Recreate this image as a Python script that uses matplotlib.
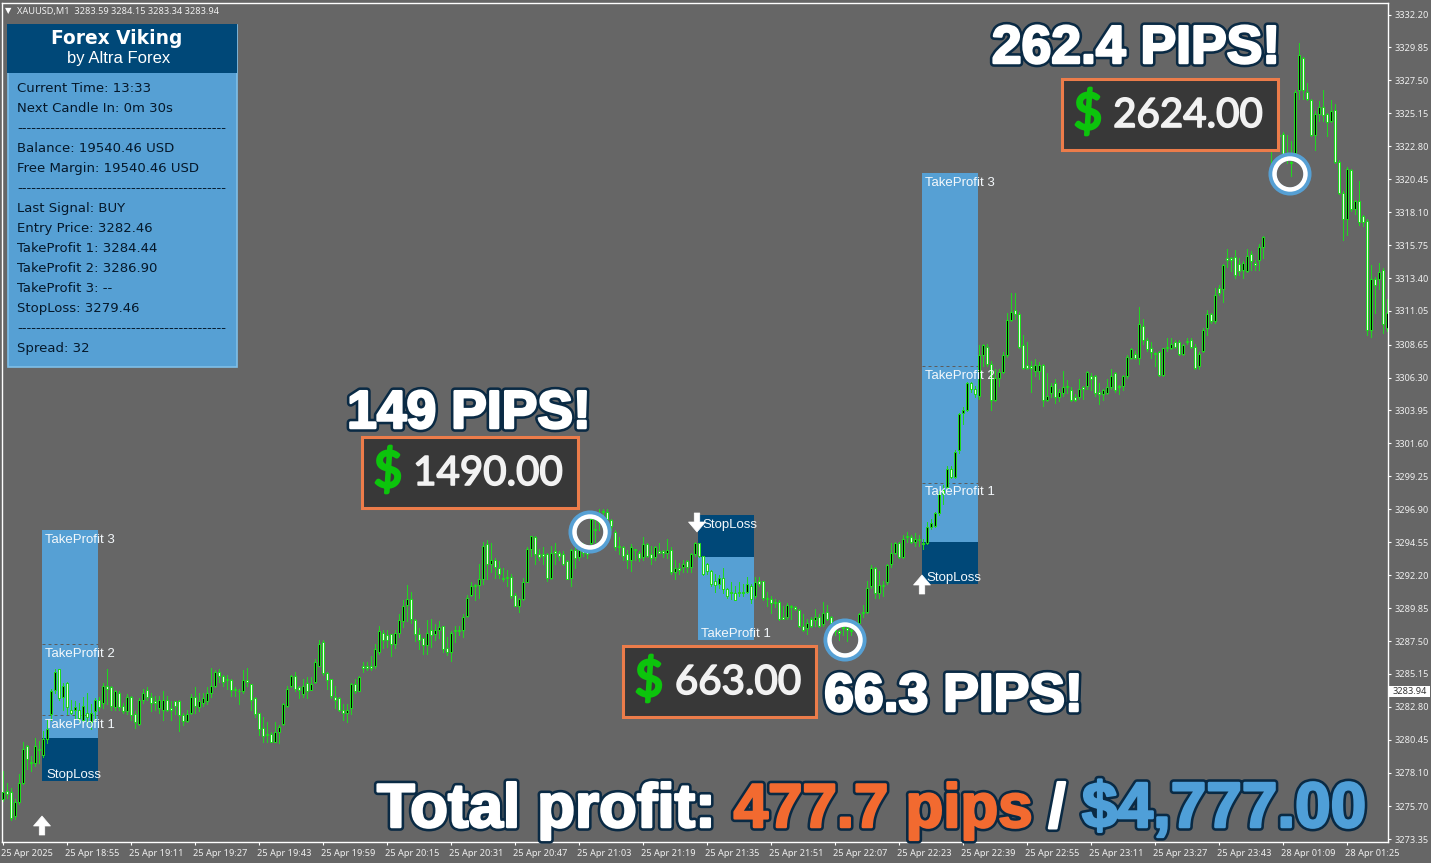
import matplotlib
matplotlib.use("Agg")
import matplotlib.pyplot as plt
import matplotlib.patheffects as pe
from matplotlib.patches import Rectangle, Circle, FancyArrow
from matplotlib.transforms import ScaledTranslation

W, H = 1431, 863
GRAY = '#666666'
GREEN = '#1fd81f'
BLUE = '#56a0d4'
NAVY = '#004878'
ORANGE = '#ec7c4a'
DARK = '#383838'

opens = [3276.2,3276.8,3276.7,3275.0,3276.0,3277.4,3280.0,3278.9,3278.8,3279.8,
3279.4,3280.5,3282.3,3284.0,3285.5,3283.5,3284.5,3282.6,3282.6,3282.6,
3281.9,3282.4,3281.7,3282.5,3283.3,3283.1,3284.3,3284.2,3282.8,3283.8,
3282.9,3282.5,3283.5,3282.3,3281.6,3283.3,3284.0,3283.5,3283.2,3282.7,
3282.6,3283.3,3282.7,3283.2,3283.2,3282.2,3281.8,3282.4,3283.5,3282.8,
3283.1,3283.2,3283.8,3284.3,3285.3,3285.0,3284.7,3284.7,3284.1,3283.9,
3283.9,3284.7,3284.4,3283.4,3282.4,3281.3,3280.8,3280.9,3280.3,3281.0,
3281.6,3282.9,3284.3,3285.0,3284.2,3283.7,3284.5,3284.0,3284.6,3285.7,
3287.4,3285.2,3284.8,3283.5,3283.4,3282.6,3282.4,3282.7,3284.4,3283.9,
3285.7,3285.7,3285.7,3285.7,3286.7,3288.1,3287.9,3288.0,3287.3,3288.1,
3288.9,3290.1,3290.5,3289.0,3288.0,3287.7,3287.2,3288.3,3288.0,3288.3,
3288.6,3287.0,3286.7,3288.3,3288.3,3288.3,3289.3,3290.8,3291.5,3291.5,
3291.9,3294.4,3293.0,3293.3,3292.7,3292.0,3292.1,3292.1,3290.8,3290.0,
3290.5,3291.7,3294.1,3294.9,3293.7,3293.7,3293.7,3292.0,3293.9,3293.8,
3293.7,3293.2,3292.0,3294.0,3293.5,3294.0,3293.9,3294.5,3295.5,3296.0,
3296.8,3296.7,3296.1,3295.3,3294.3,3294.2,3293.7,3293.3,3294.0,3293.8,
3293.5,3294.4,3293.7,3293.5,3293.9,3293.9,3293.8,3294.0,3292.4,3292.7,
3292.8,3293.2,3292.8,3293.7,3294.5,3293.6,3293.0,3292.5,3291.8,3291.6,
3292.0,3291.2,3291.0,3290.9,3291.0,3291.0,3291.0,3291.4,3290.7,3291.8,
3291.8,3290.6,3290.5,3290.2,3290.3,3289.2,3289.2,3290.0,3289.9,3289.7,
3288.6,3288.4,3289.1,3289.0,3289.2,3288.7,3289.6,3289.2,3288.3,3288.2,
3288.5,3288.4,3288.3,3288.6,3288.8,3289.5,3289.6,3291.4,3292.7,3290.9,
3291.5,3291.7,3293.0,3293.8,3294.5,3293.5,3294.9,3294.9,3294.6,3294.8,
3294.5,3294.5,3295.6,3295.7,3296.6,3298.3,3298.5,3299.8,3299.2,3301.1,
3303.8,3304.0,3305.9,3305.5,3305.0,3307.9,3308.5,3307.3,3304.7,3306.3,
3306.7,3307.9,3310.4,3311.1,3310.8,3308.6,3307.2,3307.1,3306.8,3306.8,
3307.2,3304.7,3305.2,3305.9,3304.9,3305.2,3305.7,3305.4,3304.9,3304.9,
3305.6,3305.7,3306.4,3306.4,3305.3,3305.1,3305.2,3305.6,3306.6,3305.7,
3305.7,3306.4,3307.7,3308.0,3307.7,3310.0,3309.0,3308.4,3308.0,3308.1,
3306.5,3308.4,3308.4,3308.8,3308.8,3308.0,3308.9,3309.0,3308.5,3307.1,
3308.2,3309.8,3310.8,3310.3,3312.7,3312.6,3314.8,3314.8,3314.9,3314.4,
3314.0,3313.9,3315.1,3314.5,3314.7,3315.6,3322.8,3322.8,3323.3,3323.6,
3323.7,3322.3,3321.6,3322.3,3326.8,3329.1,3326.7,3326.1,3323.6,3325.1,
3325.6,3325.1,3324.6,3325.4,3321.7,3319.5,3317.6,3321.1,3318.3,3318.9,
3317.8,3317.5,3309.7,3313.3,3313.3,3314.0,3309.8]

closes = [3276.7,3276.6,3274.9,3276.0,3277.4,3279.8,3279.1,3278.8,3280.0,3279.7,
3280.5,3281.2,3283.9,3285.3,3283.4,3284.3,3282.8,3282.4,3282.8,3282.0,
3282.9,3282.1,3282.4,3283.3,3282.8,3284.3,3284.1,3282.9,3283.9,3282.8,
3282.5,3283.5,3282.2,3281.7,3283.3,3283.8,3283.5,3283.1,3283.1,3283.3,
3283.3,3282.6,3282.6,3282.9,3282.2,3281.8,3282.3,3283.5,3282.9,3283.2,
3283.4,3283.8,3284.3,3285.3,3285.0,3284.6,3284.7,3284.0,3284.0,3283.9,
3284.7,3284.6,3283.3,3282.3,3281.2,3280.7,3280.8,3280.3,3281.0,3281.4,
3283.0,3284.1,3285.0,3284.1,3284.0,3284.3,3283.9,3284.4,3286.0,3287.3,
3285.2,3284.7,3283.6,3283.3,3282.6,3282.4,3282.6,3284.4,3283.9,3284.9,
3285.6,3285.6,3285.6,3286.9,3288.2,3287.6,3287.6,3287.3,3288.1,3289.0,
3290.0,3290.5,3289.1,3288.0,3287.6,3287.2,3288.1,3287.9,3288.3,3288.5,
3286.9,3286.7,3288.1,3288.2,3288.2,3289.2,3290.6,3291.4,3291.4,3291.9,
3294.3,3293.0,3293.3,3292.8,3292.3,3291.9,3292.0,3290.7,3290.0,3290.5,
3291.7,3294.1,3295.0,3293.7,3293.5,3293.6,3292.0,3293.8,3293.8,3293.6,
3293.0,3291.9,3294.0,3293.4,3294.0,3293.8,3293.7,3296.2,3295.4,3296.2,
3296.7,3296.2,3295.7,3294.2,3294.2,3293.6,3293.3,3294.2,3294.0,3293.4,
3294.4,3293.6,3293.4,3294.2,3293.8,3293.8,3294.0,3292.4,3292.7,3292.6,
3293.0,3292.8,3293.7,3294.5,3293.6,3292.3,3292.5,3291.6,3291.5,3292.0,
3291.2,3290.7,3290.9,3290.4,3290.9,3290.9,3291.6,3290.5,3291.7,3291.6,
3290.6,3290.5,3290.2,3290.2,3289.1,3289.1,3290.1,3289.9,3289.8,3288.6,
3288.3,3288.8,3288.6,3289.2,3288.6,3289.5,3289.1,3288.8,3288.2,3288.1,
3288.4,3288.3,3288.2,3288.7,3289.4,3289.6,3291.3,3292.7,3290.9,3291.5,
3291.4,3292.9,3293.8,3294.5,3293.5,3294.8,3295.0,3294.6,3294.8,3294.7,
3294.4,3295.6,3295.9,3296.6,3298.0,3298.0,3299.8,3299.2,3301.0,3303.7,
3304.0,3305.9,3305.5,3305.1,3307.9,3308.6,3307.3,3304.7,3306.3,3306.7,
3307.9,3310.4,3311.0,3310.8,3308.5,3307.0,3307.0,3307.0,3307.2,3307.2,
3304.7,3305.0,3305.7,3304.9,3305.3,3305.6,3305.6,3304.7,3304.7,3305.5,
3305.5,3306.7,3306.2,3305.2,3305.1,3305.4,3305.6,3306.4,3305.4,3305.6,
3306.4,3307.8,3308.3,3307.7,3310.1,3309.0,3308.3,3308.1,3308.0,3306.5,
3308.4,3308.4,3308.7,3308.5,3308.0,3308.6,3308.8,3308.5,3307.0,3308.0,
3309.7,3310.8,3310.3,3312.2,3312.3,3314.3,3314.7,3314.7,3313.6,3313.9,
3314.5,3315.0,3314.6,3314.3,3315.6,3316.3,3322.7,3322.7,3322.8,3323.5,
3322.2,3322.2,3321.6,3326.7,3329.3,3326.8,3326.2,3323.6,3325.1,3325.6,
3325.0,3324.5,3325.3,3321.7,3319.5,3317.6,3321.2,3318.3,3318.9,3317.4,
3317.4,3309.7,3313.3,3312.9,3313.8,3310.1,3310.9]

highs = [3278.2,3277.4,3277.0,3276.2,3278.0,3280.3,3280.1,3279.3,3280.6,3280.4,
3281.1,3281.9,3284.1,3285.5,3285.5,3284.5,3284.6,3283.3,3283.2,3283.1,
3283.5,3283.8,3283.0,3283.4,3283.5,3284.5,3285.5,3284.3,3284.0,3283.9,
3283.1,3283.7,3283.6,3282.5,3283.4,3284.1,3284.2,3283.8,3283.6,3283.6,
3283.9,3283.6,3283.2,3283.2,3283.3,3282.4,3282.6,3283.7,3284.2,3283.8,
3283.8,3284.2,3285.6,3285.4,3285.5,3285.1,3285.1,3284.8,3284.2,3284.1,
3285.4,3285.6,3284.4,3283.5,3282.4,3282.1,3281.7,3281.0,3281.7,3281.5,
3283.1,3284.3,3285.1,3285.3,3284.3,3284.8,3284.9,3284.9,3286.2,3287.6,
3287.6,3285.3,3284.8,3284.3,3283.5,3283.0,3283.0,3284.5,3284.8,3285.0,
3286.0,3286.0,3286.4,3287.3,3288.6,3288.3,3288.3,3288.0,3288.3,3289.4,
3290.4,3291.5,3291.0,3289.1,3288.4,3287.7,3289.0,3289.1,3288.7,3288.9,
3288.6,3287.8,3288.2,3288.6,3288.6,3289.4,3290.8,3291.7,3291.6,3293.0,
3294.6,3294.7,3294.5,3293.4,3293.2,3292.7,3292.6,3292.3,3290.9,3290.6,
3292.0,3294.2,3295.0,3295.0,3294.1,3294.2,3293.8,3294.3,3294.5,3293.9,
3293.9,3293.3,3294.1,3294.3,3294.5,3294.5,3294.2,3296.3,3296.1,3296.9,
3296.9,3296.9,3296.2,3295.4,3294.9,3294.3,3294.0,3294.4,3294.1,3293.9,
3294.9,3294.5,3294.3,3294.3,3294.5,3294.0,3294.8,3294.2,3293.3,3293.1,
3293.3,3293.3,3293.8,3294.6,3294.5,3293.6,3293.1,3292.6,3292.3,3292.2,
3292.7,3291.3,3291.7,3291.4,3291.7,3291.6,3292.1,3291.6,3292.1,3292.1,
3291.8,3291.0,3290.7,3290.5,3290.4,3290.0,3290.2,3290.1,3290.0,3289.8,
3289.4,3289.1,3289.2,3289.8,3289.4,3290.3,3290.1,3289.3,3288.5,3288.3,
3288.5,3288.5,3288.5,3288.9,3289.5,3290.1,3291.8,3292.9,3292.8,3292.5,
3291.8,3293.0,3294.5,3294.6,3294.6,3295.1,3295.3,3295.1,3295.2,3295.1,
3294.8,3296.0,3296.2,3296.7,3298.2,3298.6,3300.0,3300.0,3301.1,3303.8,
3304.2,3306.0,3306.0,3305.7,3308.6,3308.7,3308.7,3307.5,3306.9,3306.9,
3308.1,3310.9,3312.3,3312.3,3311.0,3309.3,3308.8,3307.5,3307.6,3307.4,
3307.3,3306.6,3305.9,3306.2,3305.5,3306.8,3306.1,3305.6,3305.1,3306.2,
3305.7,3306.8,3306.6,3306.5,3305.9,3305.5,3306.2,3306.9,3306.7,3305.8,
3306.5,3307.9,3308.4,3308.2,3311.3,3310.5,3309.1,3308.8,3308.1,3308.2,
3308.4,3309.1,3309.1,3309.0,3309.0,3308.7,3309.1,3309.1,3308.7,3308.1,
3309.8,3311.1,3310.9,3312.7,3312.9,3314.4,3315.5,3314.9,3315.4,3314.8,
3314.6,3315.5,3315.3,3314.7,3315.8,3316.4,3323.0,3323.3,3323.5,3323.7,
3323.8,3323.6,3323.2,3326.8,3330.2,3329.2,3327.3,3326.2,3325.3,3326.0,
3326.8,3325.2,3326.1,3325.8,3321.8,3319.6,3321.3,3321.2,3319.0,3320.3,
3317.9,3317.6,3314.3,3313.5,3314.5,3314.1,3311.9]

lows = [3276.1,3276.3,3274.7,3274.8,3275.9,3277.3,3278.4,3278.2,3278.6,3278.8,
3279.2,3280.2,3281.9,3283.8,3283.3,3282.6,3282.3,3282.3,3282.0,3281.8,
3281.7,3281.6,3281.2,3281.9,3282.6,3282.7,3283.0,3282.6,3282.6,3282.6,
3282.4,3282.3,3281.9,3281.3,3281.5,3283.1,3283.3,3282.5,3282.6,3282.4,
3281.9,3282.5,3281.9,3282.3,3281.1,3281.5,3281.7,3282.3,3282.4,3282.5,
3282.9,3283.0,3283.5,3284.2,3284.6,3284.3,3284.1,3283.6,3283.6,3283.0,
3283.8,3284.3,3282.6,3282.1,3280.8,3280.3,3280.3,3280.3,3280.3,3280.2,
3281.5,3282.8,3284.2,3283.9,3283.4,3283.5,3283.4,3284.0,3284.5,3285.7,
3285.1,3284.1,3283.4,3282.7,3282.5,3281.9,3281.7,3282.3,3283.8,3283.9,
3285.3,3285.4,3285.4,3285.6,3286.6,3287.0,3287.1,3286.4,3287.0,3287.8,
3288.5,3288.9,3288.8,3287.5,3286.9,3286.6,3286.6,3287.1,3287.6,3287.7,
3286.7,3286.5,3286.1,3287.4,3287.9,3287.8,3289.2,3290.7,3290.4,3290.6,
3291.6,3291.9,3292.4,3292.0,3292.0,3291.8,3291.4,3290.6,3290.0,3289.6,
3290.4,3291.7,3293.6,3293.0,3293.3,3293.0,3291.8,3291.9,3293.0,3293.3,
3292.9,3291.9,3291.4,3292.7,3293.3,3293.6,3293.4,3294.4,3294.6,3295.4,
3296.2,3295.7,3295.4,3294.0,3293.7,3293.3,3292.7,3292.5,3293.3,3293.2,
3293.3,3293.5,3293.0,3293.3,3293.8,3293.5,3293.4,3292.3,3291.9,3292.3,
3292.4,3292.4,3292.4,3293.6,3293.5,3292.2,3292.3,3291.4,3291.0,3291.3,
3290.9,3290.6,3290.5,3290.4,3290.7,3290.7,3290.9,3290.2,3290.6,3291.4,
3290.4,3290.0,3289.5,3289.9,3289.0,3289.1,3289.1,3289.1,3289.7,3288.5,
3288.2,3288.0,3288.5,3288.6,3288.5,3288.6,3289.0,3288.6,3287.9,3287.6,
3287.9,3287.5,3287.9,3288.3,3288.7,3289.2,3289.5,3291.3,3290.6,3290.6,
3290.7,3291.6,3292.8,3293.7,3293.4,3293.4,3294.6,3294.5,3294.3,3294.3,
3294.1,3294.4,3295.5,3295.6,3296.5,3297.3,3298.4,3299.1,3299.1,3300.9,
3303.0,3303.9,3305.3,3304.9,3304.8,3307.1,3307.1,3304.0,3304.6,3305.7,
3306.6,3307.8,3310.3,3310.5,3308.4,3306.9,3306.9,3305.3,3306.4,3306.2,
3304.3,3304.6,3304.9,3304.5,3304.6,3305.0,3305.2,3304.6,3304.6,3304.8,
3304.8,3305.5,3305.4,3305.0,3304.4,3304.7,3305.1,3305.5,3305.3,3305.1,
3305.4,3306.3,3307.6,3307.6,3307.3,3308.7,3308.2,3307.7,3307.1,3306.4,
3306.4,3308.2,3308.3,3308.4,3307.9,3307.9,3308.7,3308.4,3306.9,3306.9,
3308.1,3309.3,3310.2,3310.2,3312.2,3311.7,3314.2,3313.9,3313.4,3313.6,
3313.4,3313.8,3314.0,3314.0,3314.0,3314.8,3322.6,3321.6,3322.7,3323.4,
3322.1,3321.6,3320.7,3322.2,3326.2,3326.2,3326.1,3323.5,3322.5,3324.6,
3324.6,3323.5,3324.5,3321.6,3319.4,3316.1,3316.5,3318.2,3318.0,3317.2,
3317.1,3309.3,3309.2,3310.9,3312.6,3309.5,3309.6]

price_ticks = [3332.20,3329.85,3327.50,3325.15,3322.80,3320.45,3318.10,3315.75,3313.40,
               3311.05,3308.65,3306.30,3303.95,3301.60,3299.25,3296.90,3294.55,3292.20,
               3289.85,3287.50,3285.15,3282.80,3280.45,3278.10,3275.70,3273.35]
time_labels = ['25 Apr 2025','25 Apr 18:55','25 Apr 19:11','25 Apr 19:27','25 Apr 19:43',
               '25 Apr 19:59','25 Apr 20:15','25 Apr 20:31','25 Apr 20:47','25 Apr 21:03',
               '25 Apr 21:19','25 Apr 21:35','25 Apr 21:51','25 Apr 22:07','25 Apr 22:23',
               '25 Apr 22:39','25 Apr 22:55','25 Apr 23:11','25 Apr 23:27','25 Apr 23:43',
               '28 Apr 01:09','28 Apr 01:25']
last_price = 3283.94

# trade zones: first bar, last bar, stop, entry, tp1, tp2, tp3
buy_a = [9.8, 23.8, 3277.5, 3280.57, 3282.21, 3287.28, 3295.41]
sell_b = [173.8, 187.8, 3296.5, 3293.5, 3287.58]
buy_c = [229.8, 243.8, 3291.56, 3294.56, 3298.8, 3307.1, 3320.88]

DASHES = '-'*44
panel_lines = ['Current Time: 13:33','Next Candle In: 0m 30s',DASHES,
               'Balance: 19540.46 USD','Free Margin: 19540.46 USD',DASHES,
               'Last Signal: BUY','Entry Price: 3282.46','TakeProfit 1: 3284.44',
               'TakeProfit 2: 3286.90','TakeProfit 3: --','StopLoss: 3279.46',DASHES,
               'Spread: 32']

fig = plt.figure(figsize=(W/100, H/100), dpi=100, facecolor=GRAY)

# main price axes
L, R, T, B = 1.7, 1387.5, 3.3, 842.3
ax = fig.add_axes([L/W, 1-B/H, (R-L)/W, (B-T)/H], facecolor=GRAY)
ax.set_xlim(-0.2, 346.25)
ax.set_ylim(3273.14, 3333.0)
for s in ax.spines.values():
    s.set_color('white'); s.set_linewidth(1.0)

TICK = 'Noto Sans'
ax.yaxis.tick_right()
ax.set_yticks(price_ticks)
ax.set_yticklabels([f'{p:.2f}' for p in price_ticks], fontsize=6.6, family=TICK, color='#f0f0f0')
ax.set_xticks([16*i for i in range(len(time_labels))])
ax.set_xticklabels(time_labels, fontsize=6.6, family=TICK, color='#f0f0f0', ha='left')
ax.tick_params(axis='both', color='white', length=2.5, width=0.8, pad=2.5)
ax.tick_params(axis='x', pad=2.5)
shift = ScaledTranslation(-1.5/100, 0, fig.dpi_scale_trans)
for t in ax.get_xticklabels():
    t.set_transform(t.get_transform() + shift)

# zones
def zone(x0, x1, lo, hi, c):
    ax.add_patch(Rectangle((x0, lo), x1-x0, hi-lo, facecolor=c, edgecolor='none', zorder=1))
for z in (buy_a, buy_c):
    zone(z[0], z[1], z[2], z[3], NAVY)
    zone(z[0], z[1], z[3], z[6], BLUE)
    ax.hlines(z[4:6], z[0], z[1], colors='#5c5c5c', linestyles=(0, (3, 3)), linewidth=0.72, zorder=1.5)
zone(sell_b[0], sell_b[1], sell_b[3], sell_b[2], NAVY)
zone(sell_b[0], sell_b[1], sell_b[4], sell_b[3], BLUE)

# candles
xs = list(range(len(opens)))
ax.vlines(xs, lows, highs, colors=GREEN, linewidth=0.72, antialiased=False, zorder=2)
for x, o, c in zip(xs, opens, closes):
    face = 'black' if c >= o else '#e6ffe6'
    ax.bar(x, max(abs(c-o), 0.07), bottom=min(o, c), width=0.5, facecolor=face,
           edgecolor=GREEN, linewidth=0.72, antialiased=False, zorder=3)

# pixel overlay for annotations
ov = fig.add_axes([0, 0, 1, 1], facecolor='none')
ov.set_xlim(0, W); ov.set_ylim(H, 0); ov.axis('off')

SANS = 'Liberation Sans'
# price tag
ov.add_patch(Rectangle((1389, 686), 41, 11, facecolor='white', edgecolor='none'))
ov.text(1393, 691.5, f'{last_price:.2f}', fontsize=6.6, family=TICK, color='#333333', va='center', ha='left')

# top label
ov.text(8, 11, '\u25BC', fontsize=6, color='white', ha='center', va='center')
ov.text(17, 11.5, 'XAUUSD,M1  3283.59 3284.15 3283.34 3283.94', fontsize=6.6, family=TICK, color='#f0f0f0', va='center')

# info panel
ov.add_patch(Rectangle((8, 25), 229, 342, facecolor=BLUE, edgecolor='#7fbfe8', linewidth=1.2))
ov.add_patch(Rectangle((7, 24), 230, 49, facecolor=NAVY, edgecolor='none'))
ov.text(116.5, 38.5, 'Forex Viking', fontsize=13.4, fontweight='bold', color='white', ha='center', va='center')
ov.text(118.5, 59, 'by Altra Forex', fontsize=12, family=SANS, color='white', ha='center', va='center')
for k, line in enumerate(panel_lines):
    ov.text(17, 88.5+20*k, line, fontsize=9.5, color='#05182a', va='center', ha='left')

# zone labels
def lab(x, y, s):
    ov.text(x, y+1.5, s, fontsize=9.5, family=SANS, color='#f4f8fb', ha='left', va='center')
lab(45, 538, 'TakeProfit 3'); lab(45, 652, 'TakeProfit 2'); lab(45, 723, 'TakeProfit 1'); lab(46, 773, 'StopLoss')
lab(702, 523, 'StopLoss'); lab(701, 632, 'TakeProfit 1')
lab(925, 181, 'TakeProfit 3'); lab(925, 374, 'TakeProfit 2'); lab(925, 490, 'TakeProfit 1'); lab(926, 576, 'StopLoss')

# arrows
def arrow(x, ytail, dy):
    ov.add_patch(FancyArrow(x, ytail, 0, dy, width=5.5, head_width=17, head_length=10,
                            length_includes_head=True, facecolor='white', edgecolor='white', linewidth=0.5))
arrow(42, 835, -19); arrow(697, 513, 19); arrow(922, 594, -19)

# circles
for cx, cy in ((590, 532), (845, 640), (1290, 174)):
    ov.add_patch(Circle((cx, cy), 17.5, facecolor='none', edgecolor=BLUE, linewidth=5.8))
    ov.add_patch(Circle((cx, cy), 15.5, facecolor='none', edgecolor='white', linewidth=3.2))

# money boxes
def money(x0, y0, w, h, s, dx, sx):
    ov.add_patch(Rectangle((x0, y0), w, h, facecolor=DARK, edgecolor=ORANGE, linewidth=2.2))
    ov.text(dx, y0+h/2, '$', fontsize=36, family='Lato', color='#0cc40c', ha='center', va='center',
            path_effects=[pe.Stroke(linewidth=2.0, foreground='#0cc40c'), pe.Normal()])
    ov.text(sx, y0+h/2+1, s, fontsize=29, family='Lato', color='#f2f2f2', ha='center', va='center',
            path_effects=[pe.Stroke(linewidth=1.2, foreground='#f2f2f2'), pe.Normal()])
money(362, 437, 216, 71, '1490.00', 388, 488)
money(623, 646, 193, 71, '663.00', 649, 738)
money(1062, 79, 216, 71, '2624.00', 1088, 1188)

# headline text
def headline(xc, ybase, s, size, face='white'):
    ov.text(xc, ybase, s, fontsize=size, fontweight='bold', family=SANS, color=face, ha='center', va='baseline',
            path_effects=[pe.Stroke(linewidth=5.5, foreground='#0a2a44'),
                          pe.Stroke(linewidth=1.8, foreground=face), pe.Normal()])
headline(469, 428, '149 PIPS!', 38.5)
headline(1136, 63, '262.4 PIPS!', 38.5)
headline(953.5, 711, '66.3 PIPS!', 38.5)
headline(546, 827, 'Total profit:', 44.5)
headline(883, 827, '477.7 pips', 44.5, '#f26a30')
headline(1057, 827, '/', 44.5)
headline(1224, 827, '$4,777.00', 46, '#4f9fd8')

fig.savefig('out.png', dpi=100, facecolor=GRAY)
